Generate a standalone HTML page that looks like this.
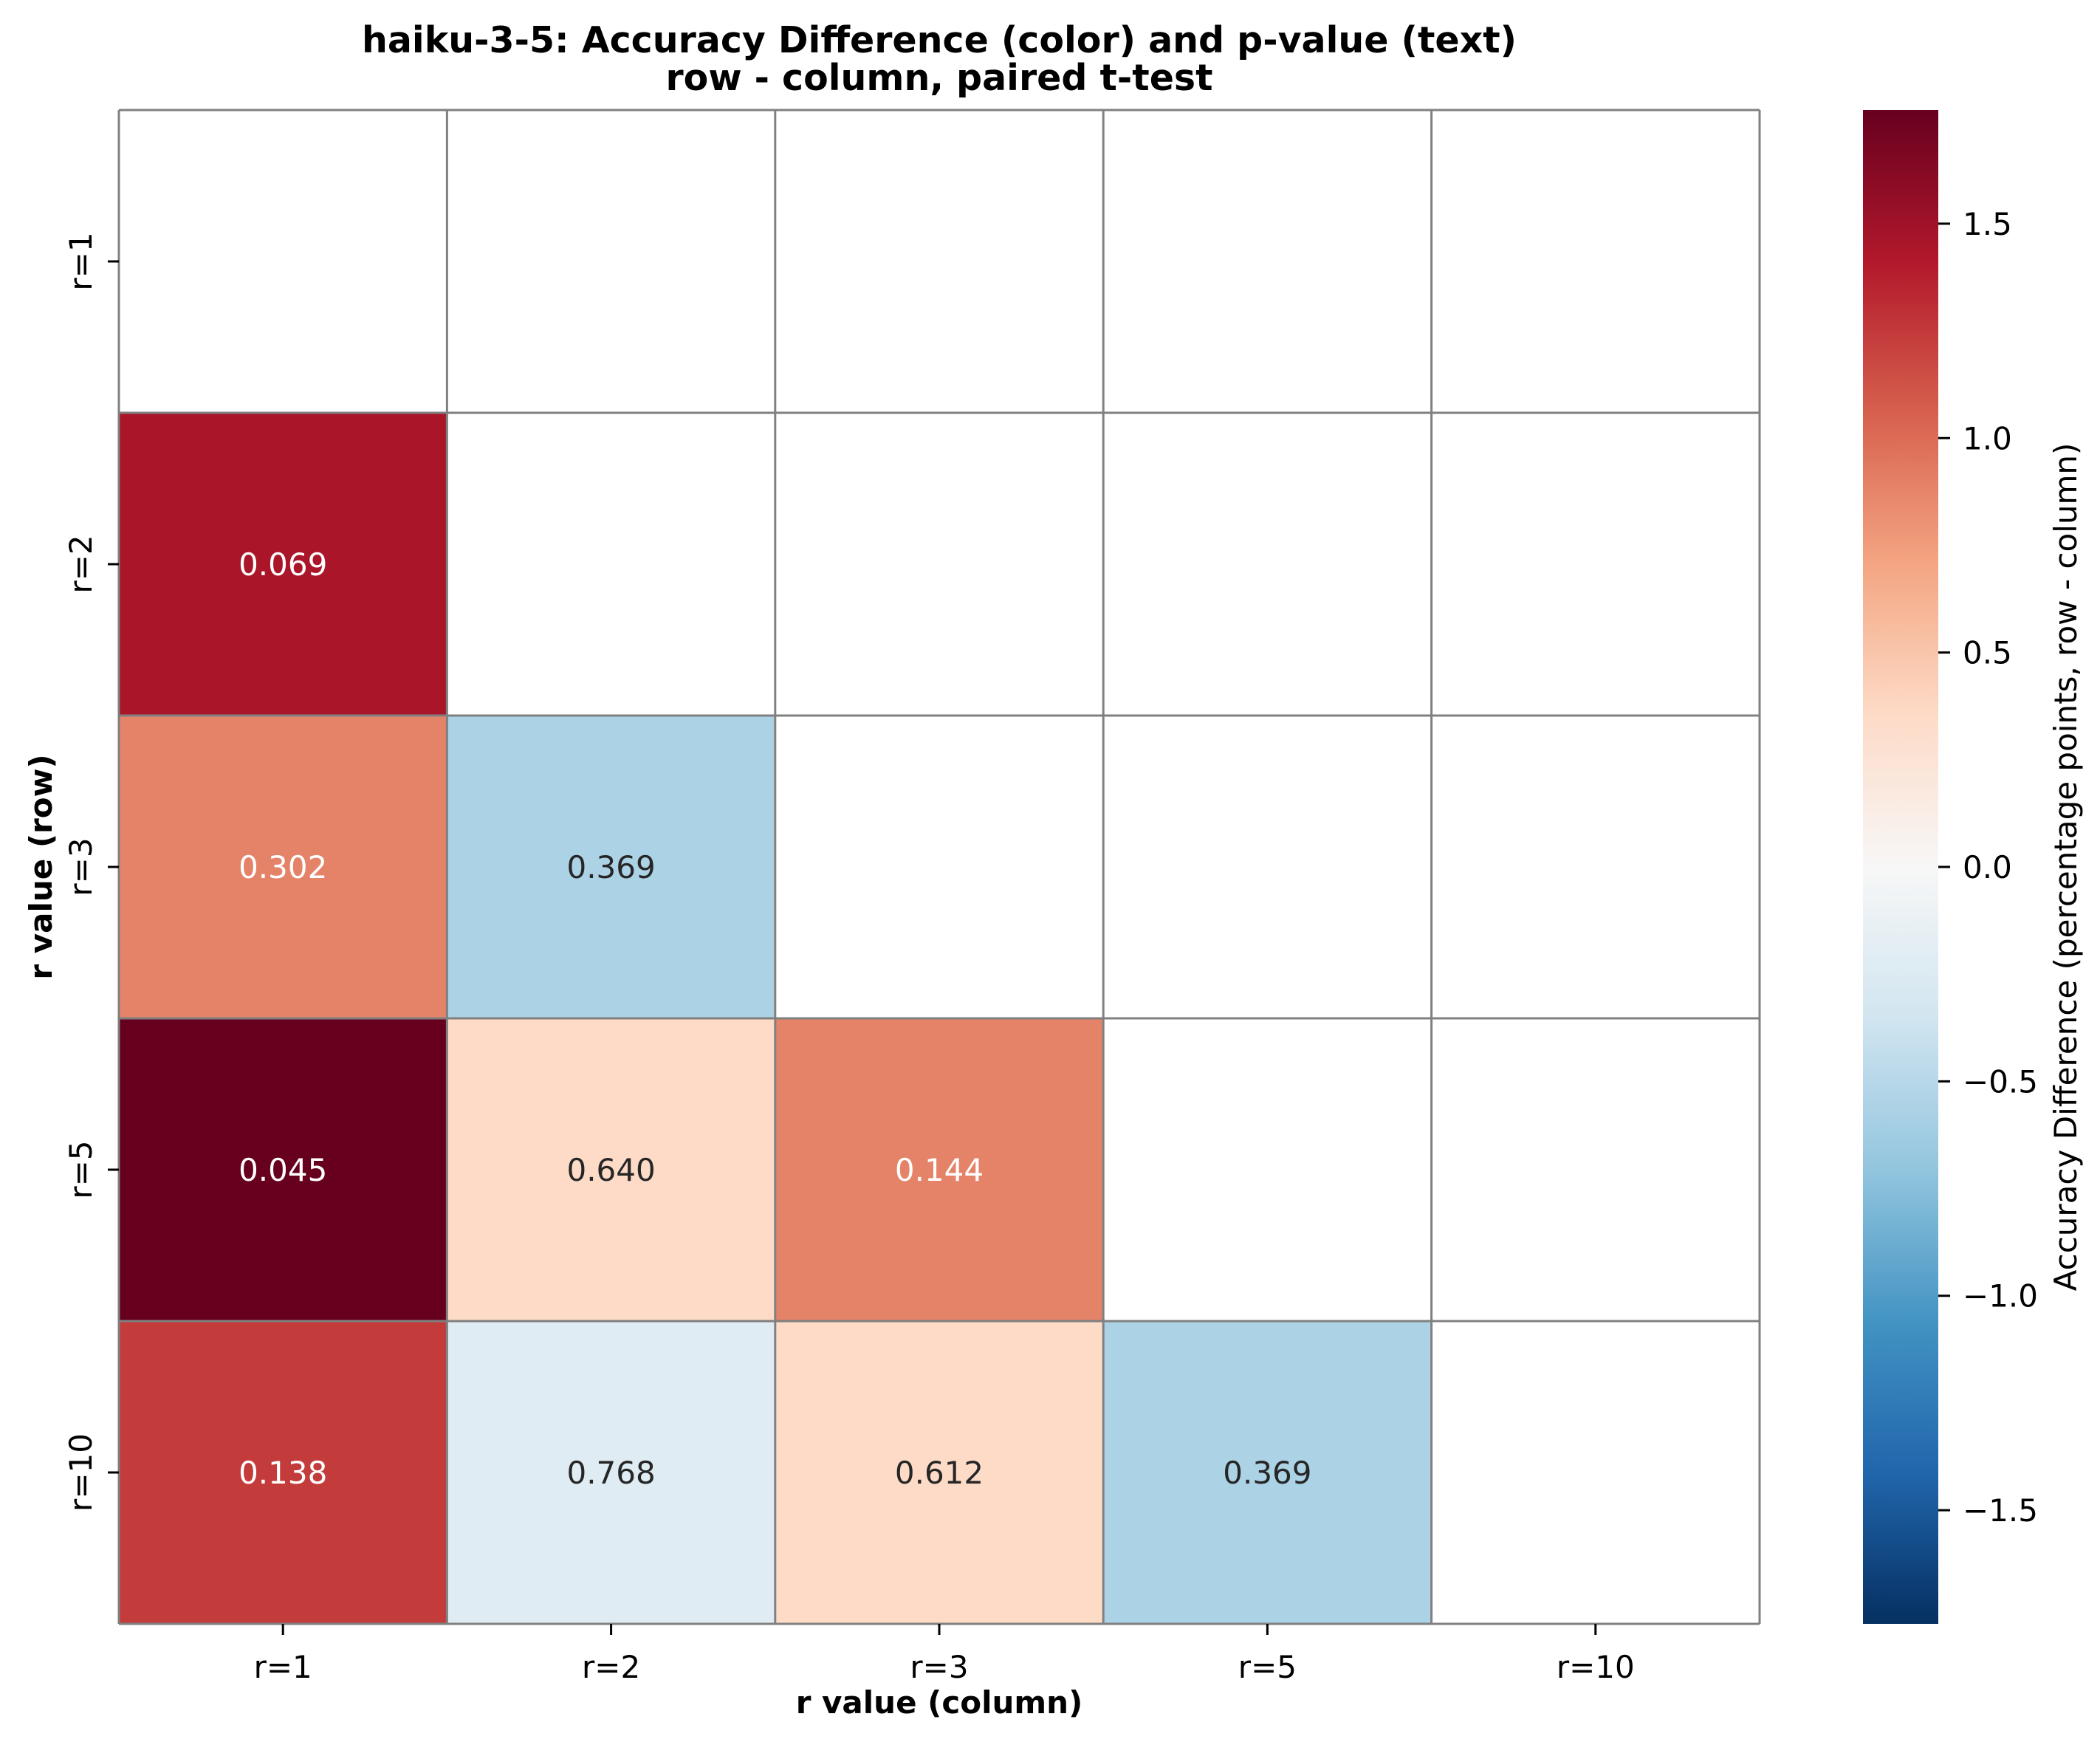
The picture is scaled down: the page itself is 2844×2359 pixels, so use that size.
<!DOCTYPE html>
<html><head><meta charset="utf-8"><style>
html,body{margin:0;padding:0;background:#fff;}
svg{display:block;font-family:"DejaVu Sans","Liberation Sans",sans-serif;}
</style></head><body>
<svg id="chart" width="2844" height="2359" viewBox="0 0 2844 2359" xmlns="http://www.w3.org/2000/svg">
<rect width="2844" height="2359" fill="#fff"/>
<text x="1272" y="71" text-anchor="middle" font-size="49" font-weight="bold">haiku-3-5: Accuracy Difference (color) and p-value (text)</text>
<text x="1272" y="122" text-anchor="middle" font-size="49" font-weight="bold">row - column, paired t-test</text>
<g id="cells"></g>
<g id="grid"></g>
<g id="xticks"></g>
<g id="yticks"></g>
<text x="1272" y="2320" text-anchor="middle" font-size="42" font-weight="bold">r value (column)</text>
<text transform="translate(70,1174) rotate(-90)" text-anchor="middle" font-size="42" font-weight="bold">r value (row)</text>
<defs><linearGradient id="cbgrad" x1="0" y1="1" x2="0" y2="0"></linearGradient></defs>
<rect x="2523" y="149" width="102" height="2050" fill="url(#cbgrad)"/>
<g id="cbticks"></g>
<text transform="translate(2812,1174) rotate(-90)" text-anchor="middle" font-size="42">Accuracy Difference (percentage points, row - column)</text>
</svg>
<script>
const categories = ["r=1","r=2","r=3","r=5","r=10"];
// values[row][col], null = masked
const diffValues = [
  [null,null,null,null,null],
  [1.45,null,null,null,null],
  [0.88,-0.56,null,null,null],
  [1.78,0.35,0.88,null,null],
  [1.24,-0.22,0.35,-0.56,null]
];
const pValues = [
  [null,null,null,null,null],
  ["0.069",null,null,null,null],
  ["0.302","0.369",null,null,null],
  ["0.045","0.640","0.144",null,null],
  ["0.138","0.768","0.612","0.369",null]
];
const colorbarTicks = [1.5,1.0,0.5,0.0,-0.5,-1.0,-1.5];
const colorbarTickLabels = ["1.5","1.0","0.5","0.0","\u22120.5","\u22121.0","\u22121.5"];
const vmax = 1.765, vmin = -1.765;

const NS = "http://www.w3.org/2000/svg";
const L = 161, T = 149, W = 2222, H = 2050;
const n = categories.length;
const cw = W / n, ch = H / n;
const xPos = i => L + i * cw;
const yPos = i => T + i * ch;
const cbTop = 149, cbBot = 2199;
const cbY = v => cbBot - (v - vmin) / (vmax - vmin) * (cbBot - cbTop);

const anchors = ["#053061","#2166ac","#4393c3","#92c5de","#d1e5f0","#f7f7f7","#fddbc7","#f4a582","#d6604d","#b2182b","#67001f"];
function hex2rgb(h){return [1,3,5].map(i=>parseInt(h.substr(i,2),16));}
function cmap(v){
  let t = (v - vmin) / (vmax - vmin); t = Math.max(0, Math.min(1, t));
  const p = t * 10, i = Math.min(9, Math.floor(p)), f = p - i;
  const a = hex2rgb(anchors[i]), b = hex2rgb(anchors[i+1]);
  return a.map((c,k)=>Math.round(c + (b[k]-c)*f));
}
function relLum(rgb){
  const lin = rgb.map(c=>{c/=255; return c<=0.03928? c/12.92 : Math.pow((c+0.055)/1.055,2.4);});
  return 0.2126*lin[0]+0.7152*lin[1]+0.0722*lin[2];
}
function mk(tag, attrs, parent){
  const e = document.createElementNS(NS, tag);
  for (const k in attrs) e.setAttribute(k, attrs[k]);
  parent.appendChild(e); return e;
}
const cells = document.getElementById('cells');
for (let r = 0; r < n; r++) for (let c = 0; c < n; c++) {
  const v = diffValues[r][c];
  const rgb = v === null ? [255,255,255] : cmap(v);
  const rect = mk('rect', {x:xPos(c), y:yPos(r), width:cw, height:ch, fill:`rgb(${rgb.join(',')})`}, cells);
  
  
  if (v !== null && pValues[r][c]) {
    const t = mk('text', {x:xPos(c)+cw/2, y:yPos(r)+ch/2+15, 'text-anchor':'middle', 'font-size':42, fill: relLum(rgb) < 0.408 ? '#fff' : '#262626'}, cells);
    t.textContent = pValues[r][c];
    
    
  }
}
const grid = document.getElementById('grid');
for (let i = 0; i <= n; i++) {
  mk('line', {x1:xPos(i), y1:T, x2:xPos(i), y2:T+H, stroke:'#808080', 'stroke-width':3}, grid);
  mk('line', {x1:L, y1:yPos(i), x2:L+W, y2:yPos(i), stroke:'#808080', 'stroke-width':3}, grid);
}
const xt = document.getElementById('xticks'), yt = document.getElementById('yticks');
categories.forEach((c, i) => {
  const cx = xPos(i) + cw/2, cy = yPos(i) + ch/2;
  mk('line', {x1:cx, y1:T+H, x2:cx, y2:T+H+15, stroke:'#000', 'stroke-width':3}, xt);
  const tx = mk('text', {x:cx, y:2272, 'text-anchor':'middle', 'font-size':42}, xt);
  tx.textContent = c;
  
  
  mk('line', {x1:L-15, y1:cy, x2:L, y2:cy, stroke:'#000', 'stroke-width':3}, yt);
  const ty = mk('text', {transform:`translate(124,${cy}) rotate(-90)`, 'text-anchor':'middle', 'font-size':42}, yt);
  ty.textContent = c;
  
  
});
const grad = document.getElementById('cbgrad');
for (let i = 0; i <= 40; i++) {
  const v = vmin + (vmax - vmin) * i / 40;
  mk('stop', {offset: (i/40), 'stop-color': `rgb(${cmap(v).join(',')})`}, grad);
}
const cbt = document.getElementById('cbticks');
colorbarTicks.forEach((v, i) => {
  const y = cbY(v);
  mk('line', {x1:2625, y1:y, x2:2641, y2:y, stroke:'#000', 'stroke-width':3}, cbt);
  const t = mk('text', {x:2658, y:y+15, 'font-size':42}, cbt);
  t.textContent = colorbarTickLabels[i];
  
  
});
</script>
</body></html>
